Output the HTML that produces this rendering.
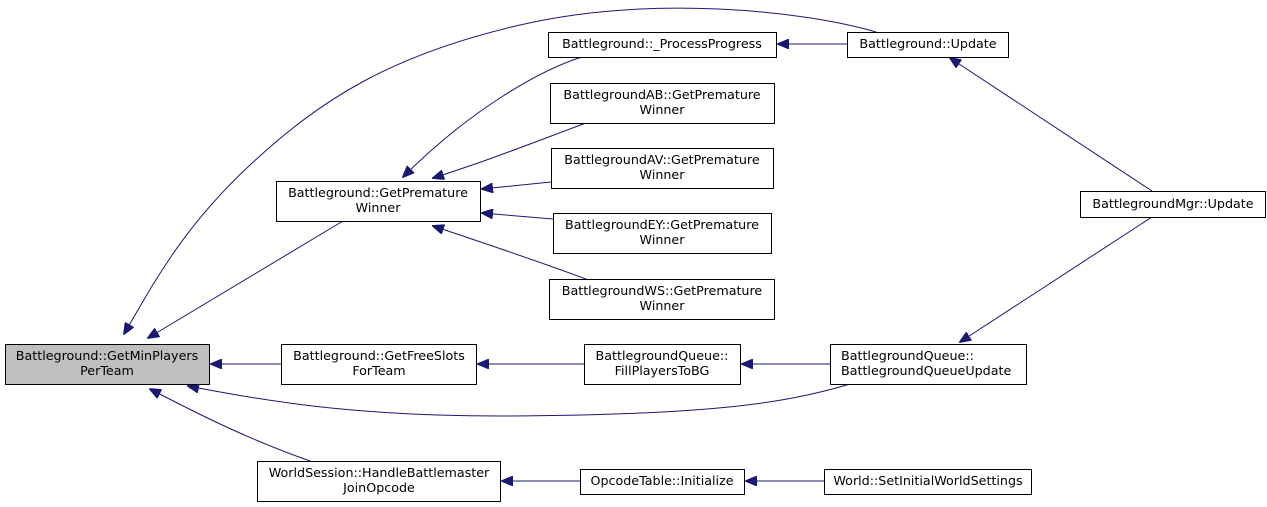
<!DOCTYPE html>
<html><head><meta charset="utf-8"><style>html,body{margin:0;padding:0;background:#fff}svg{display:block}text{font-family:"DejaVu Sans","Liberation Sans",sans-serif;font-size:12.7px;fill:#000}</style></head><body>
<svg width="1267" height="507" viewBox="0 0 1267 507" xmlns="http://www.w3.org/2000/svg">
<defs><marker id="a" markerWidth="12" markerHeight="10" refX="11" refY="5" orient="auto" markerUnits="userSpaceOnUse"><path d="M0,0 L12,5 L0,10 z" fill="#191970" stroke="#191970"/></marker></defs>
<g fill="none" stroke="#191970" stroke-width="1" marker-end="url(#a)">
<path d="M876,32 C800,10 650,-5 520,25 C390,55 320,100 250,165 C180,230 150,290 124,334"/>
<path d="M343,221 L148,338"/>
<path d="M582,57 C540,70 470,110 403,177"/>
<path d="M586,123 C540,140 490,160 433,178"/>
<path d="M551,182 L482,189"/>
<path d="M553,219 L482,213"/>
<path d="M586,279 C540,262 490,245 433,226"/>
<path d="M281,364 L211,364"/>
<path d="M584,364 L478,364"/>
<path d="M830,364 L742,364"/>
<path d="M850,384 C780,405 700,415 500,416 C350,416 260,400 188,386"/>
<path d="M310,461 C250,440 200,415 150,389"/>
<path d="M580,481 L502,481"/>
<path d="M824,481 L746,481"/>
<path d="M847,44 L778,44"/>
<path d="M1152,191 L950,58"/>
<path d="M1152,217 L960,342"/>
</g>
<g stroke="#000" stroke-width="1">
<rect x="5.5" y="344.5" width="204" height="40" fill="#bfbfbf"/>
<rect x="276.5" y="181.5" width="204" height="40" fill="#fff"/>
<rect x="281.5" y="344.5" width="195" height="40" fill="#fff"/>
<rect x="257.5" y="461.5" width="243" height="40" fill="#fff"/>
<rect x="548.5" y="32.5" width="228" height="25" fill="#fff"/>
<rect x="847.5" y="32.5" width="161" height="25" fill="#fff"/>
<rect x="550.5" y="83.5" width="224" height="40" fill="#fff"/>
<rect x="551.5" y="148.5" width="222" height="40" fill="#fff"/>
<rect x="553.5" y="213.5" width="218" height="40" fill="#fff"/>
<rect x="549.5" y="279.5" width="225" height="40" fill="#fff"/>
<rect x="1080.5" y="191.5" width="185" height="26" fill="#fff"/>
<rect x="584.5" y="344.5" width="156" height="40" fill="#fff"/>
<rect x="830.5" y="344.5" width="196" height="40" fill="#fff"/>
<rect x="580.5" y="469.5" width="164" height="25" fill="#fff"/>
<rect x="824.5" y="469.5" width="207" height="25" fill="#fff"/>
</g>
<g text-anchor="middle">
<text x="107" y="360">Battleground::GetMinPlayers</text><text x="107" y="375">PerTeam</text>
<text x="378" y="197">Battleground::GetPremature</text><text x="378" y="212">Winner</text>
<text x="379" y="360">Battleground::GetFreeSlots</text><text x="379" y="375">ForTeam</text>
<text x="379" y="477">WorldSession::HandleBattlemaster</text><text x="379" y="492">JoinOpcode</text>
<text x="662" y="48">Battleground::_ProcessProgress</text>
<text x="928" y="48">Battleground::Update</text>
<text x="662" y="99">BattlegroundAB::GetPremature</text><text x="662" y="114">Winner</text>
<text x="662" y="164">BattlegroundAV::GetPremature</text><text x="662" y="179">Winner</text>
<text x="662" y="229">BattlegroundEY::GetPremature</text><text x="662" y="244">Winner</text>
<text x="662" y="295">BattlegroundWS::GetPremature</text><text x="662" y="310">Winner</text>
<text x="1173" y="208">BattlegroundMgr::Update</text>
<text x="662" y="360">BattlegroundQueue::</text><text x="662" y="375">FillPlayersToBG</text>
<text x="841" y="360" text-anchor="start">BattlegroundQueue::</text><text x="841" y="375" text-anchor="start">BattlegroundQueueUpdate</text>
<text x="662" y="485">OpcodeTable::Initialize</text>
<text x="928" y="485">World::SetInitialWorldSettings</text>
</g>
</svg>
</body></html>
